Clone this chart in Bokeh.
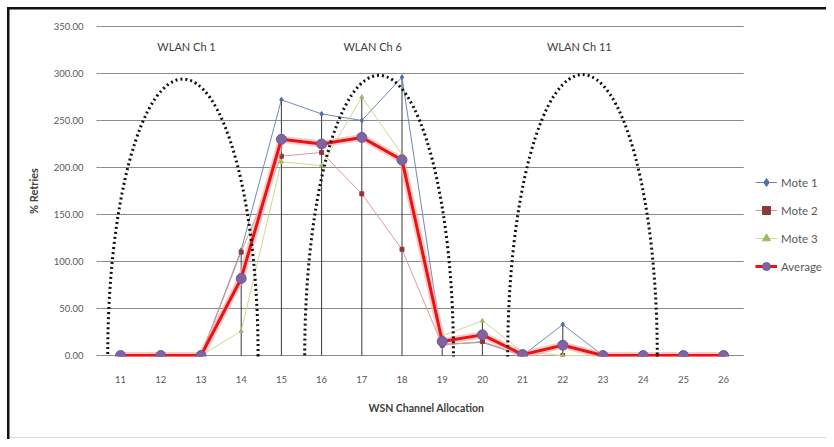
import numpy as np
from bokeh.plotting import figure
from bokeh.models import (Range1d, FixedTicker, NumeralTickFormatter, Legend, LegendItem,
                          ColumnDataSource, BoxAnnotation, Title)
from bokeh.core.properties import value
from bokeh.embed import file_html
from bokeh.resources import INLINE

# ---- data ----
channels = [11, 12, 13, 14, 15, 16, 17, 18, 19, 20, 21, 22, 23, 24, 25, 26]
mote1 = [0, 0, 0, 112, 272, 257, 250, 296, 12, 14, 0, 33, 0, 0, 0, 0]
mote2 = [0, 0, 0, 110, 212, 216, 172, 113, 11, 15, 0, 0, 0, 0, 0, 0]
mote3 = [0, 0, 0, 26, 206, 202, 275, 214, 21, 37, 4, 0, 0, 0, 0, 0]
average = [0, 0, 0, 82, 230, 225, 232, 208, 15, 22, 1, 11, 0, 0, 0, 0]
y_ticks = [0, 50, 100, 150, 200, 250, 300, 350]

wlan_labels = ["WLAN Ch 1", "WLAN Ch 6", "WLAN Ch 11"]
wlan_label_x = [12.64, 17.27, 22.41]
wlan_label_y = [328.5, 328.5, 328.5]
wlan_center = [12.55, 17.43, 22.49]
wlan_width = [3.74, 3.70, 3.72]
wlan_peak = [294, 298, 299]

FONT = "Lato"
TXT = "#595959"
W, H = 826, 439
LEFT = 100
PX_PER_CH = 40.2
x_end = 10.5 + (W - LEFT) / PX_PER_CH   # frame also hosts the legend area

p = figure(width=W, height=H, output_backend="svg", toolbar_location=None,
           x_range=Range1d(10.5, x_end), y_range=Range1d(-1, 351),
           min_border_left=LEFT, min_border_right=0, min_border_top=25, min_border_bottom=83)
p.outline_line_color = None
p.background_fill_color = "white"
p.border_fill_color = None
p.styles = {"background": (
    "linear-gradient(#111111,#111111) 7px 7px / calc(100% - 7px) 2.5px no-repeat, "
    "linear-gradient(#111111,#111111) 7px 7px / 2.5px calc(100% - 7px) no-repeat, "
    "linear-gradient(#d9d9d9,#d9d9d9) 9px 437px / calc(100% - 9px) 1px no-repeat, "
    "white")}

# axes
p.xaxis.ticker = FixedTicker(ticks=channels)
p.yaxis.ticker = FixedTicker(ticks=y_ticks)
p.yaxis.formatter = NumeralTickFormatter(format="0.00")
for ax in (p.xaxis[0], p.yaxis[0]):
    ax.axis_line_color = None
    ax.minor_tick_line_color = None
    ax.major_label_text_font = FONT
    ax.major_label_text_font_size = "9.5px"
    ax.major_label_text_color = TXT
    ax.axis_label_text_font = FONT
    ax.axis_label_text_font_size = "11px"
    ax.axis_label_text_font_style = "bold"
    ax.axis_label_text_color = "#404040"
p.xaxis.major_tick_line_color = None
p.xaxis.major_tick_in = 0
p.xaxis.major_tick_out = 0
p.xaxis.major_label_standoff = 19
p.yaxis.major_tick_line_color = "#8a8a8a"
p.yaxis.major_tick_in = 0
p.yaxis.major_tick_out = 4
p.yaxis.major_label_standoff = 13
p.yaxis.axis_label = "% Retries"
p.yaxis.axis_label_standoff = 11
p.xgrid.grid_line_color = None
p.ygrid.grid_line_color = "#8a8a8a"
p.ygrid.grid_line_width = 1

# x-axis title, placed under the category area (not under the legend)
p.add_layout(Title(text="WSN Channel Allocation", align="left", offset=268, standoff=29,
                   text_font=FONT, text_font_size="10.5px", text_font_style="bold",
                   text_color="#404040"), "below")

# hide gridlines beyond the category area (legend zone)
p.add_layout(BoxAnnotation(left=26.5, fill_color="white", fill_alpha=1, line_color=None,
                           level="underlay"))

# drop lines (from highest series value down to axis)
maxv = np.max(np.array([mote1, mote2, mote3, average]), axis=0)
p.segment(x0=channels, y0=[0] * len(channels), x1=channels, y1=maxv.tolist(),
          line_color="#3a3a3a", line_width=1)

src = ColumnDataSource(dict(x=channels, m1=mote1, m2=mote2, m3=mote3, avg=average))

l1 = p.line("x", "m1", source=src, line_color="#7088b8", line_width=1)
s1 = p.scatter("x", "m1", source=src, marker="diamond", size=5, color="#4f6fa8")
l2 = p.line("x", "m2", source=src, line_color="#d99a98", line_width=1)
s2 = p.scatter("x", "m2", source=src, marker="square", size=4, color="#8b3a3a")
l3 = p.line("x", "m3", source=src, line_color="#ccdb8e", line_width=1)
s3 = p.scatter("x", "m3", source=src, marker="triangle", size=4, color="#9bbb59")
p.line("x", "avg", source=src, line_color="#f6a9a9", line_width=7, line_alpha=0.6)
l4 = p.line("x", "avg", source=src, line_color="#ee1111", line_width=3)
s4 = p.scatter("x", "avg", source=src, marker="circle", size=10, fill_color="#8064a2",
               line_color="#6a5a98")

# WLAN spectrum arcs
p.ellipse(x=wlan_center, y=[0, 0, 0], width=wlan_width, height=[2 * h for h in wlan_peak],
          fill_color=None, line_color="#111111", line_width=3, line_dash="2 3")
p.text(x=wlan_label_x, y=wlan_label_y, text=wlan_labels, text_align="center",
       text_baseline="middle", text_font=value(FONT), text_font_size="11px",
       text_color="#404040")

legend = Legend(items=[LegendItem(label="Mote 1", renderers=[l1, s1]),
                       LegendItem(label="Mote 2", renderers=[l2, s2]),
                       LegendItem(label="Mote 3", renderers=[l3, s3]),
                       LegendItem(label="Average", renderers=[l4, s4])],
                location=(655, 80), orientation="vertical",
                background_fill_alpha=0, border_line_color=None,
                label_text_font=FONT, label_text_font_size="11.5px", label_text_color=TXT,
                glyph_width=22, glyph_height=20, label_height=20, spacing=8,
                padding=0, margin=0, label_standoff=4)
p.add_layout(legend, "center")

open("out.html", "w").write(file_html(p, INLINE))
